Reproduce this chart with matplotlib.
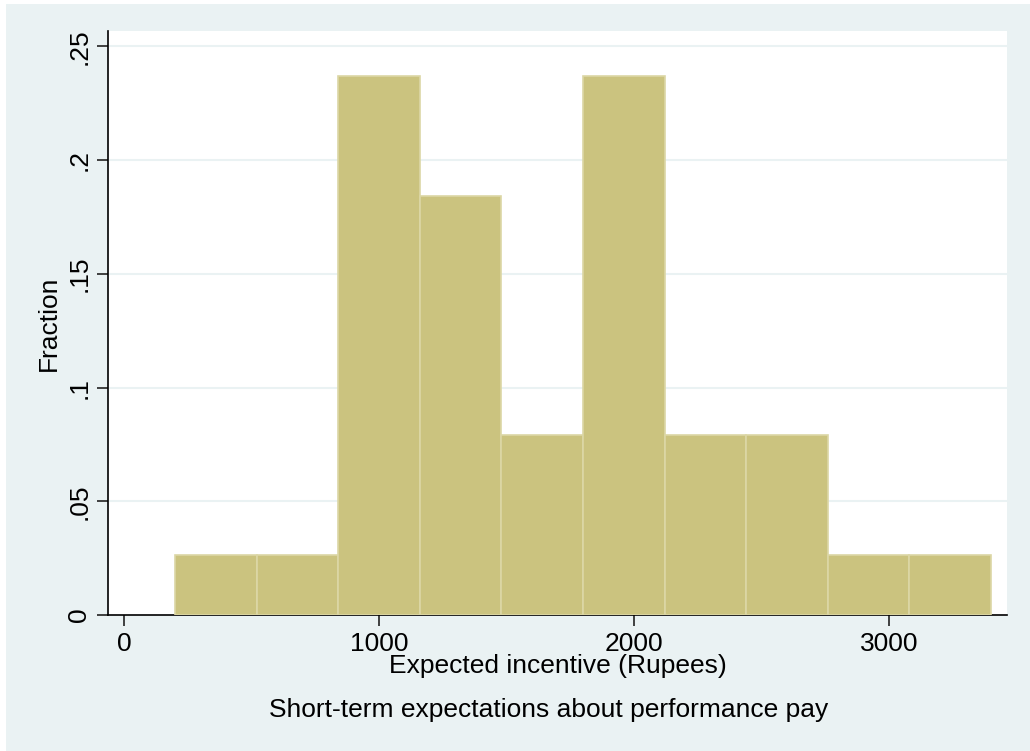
import numpy as np
import matplotlib.pyplot as plt
from matplotlib.patches import Rectangle

plt.rcParams['font.family'] = ['Liberation Sans', 'DejaVu Sans']

# Histogram bins (Rupees) and fraction per bin (n = 38)
bin_edges = [200, 520, 840, 1160, 1480, 1800, 2120, 2440, 2760, 3080, 3400]
fractions = [1/38, 1/38, 9/38, 7/38, 3/38, 9/38, 3/38, 3/38, 1/38, 1/38]
x_ticks = [0, 1000, 2000, 3000]
y_ticks = [0, 0.05, 0.1, 0.15, 0.2, 0.25]
y_tick_labels = ["0", ".05", ".1", ".15", ".2", ".25"]

bg = "#EAF2F3"
bar_color = "#CBC37F"
bar_edge = "#DCD7A6"
fs = 19

fig = plt.figure(figsize=(10.30, 7.51), dpi=100)
fig.patch.set_facecolor("white")
fig.patches.append(Rectangle((6 / 1030, 0), 1, 1 - 4 / 751,
                             transform=fig.transFigure, facecolor=bg,
                             edgecolor="none", zorder=-10))

ax = fig.add_axes([108 / 1030, 1 - 615 / 751, (1007 - 108) / 1030, (615 - 31) / 751])
ax.set_facecolor("white")

lefts = np.array(bin_edges[:-1])
widths = np.diff(bin_edges)
ax.bar(lefts, fractions, width=widths, align="edge", color=bar_color,
       edgecolor=bar_edge, linewidth=1.2, zorder=3)

ax.set_xlim(-64, 3464)
ax.set_ylim(0, 0.2568)

ax.set_yticks(y_ticks)
ax.set_yticklabels(y_tick_labels, rotation=90, va="center", fontsize=fs)
ax.set_xticks(x_ticks)
ax.set_xticklabels([str(t) for t in x_ticks], fontsize=fs)

for y in y_ticks[1:]:
    ax.axhline(y, color=bg, linewidth=1.5, zorder=1)

for side in ["top", "right"]:
    ax.spines[side].set_visible(False)
ax.spines["left"].set_linewidth(1.2)
ax.spines["bottom"].set_linewidth(1.2)
ax.tick_params(axis="both", direction="out", length=8, width=1.2, color="#222222")
ax.tick_params(axis="x", pad=4)
ax.tick_params(axis="y", pad=4)

ax.set_ylabel("Fraction", fontsize=fs, labelpad=5)
ax.set_xlabel("Expected incentive (Rupees)", fontsize=fs, labelpad=-1)

fig.text(549 / 1030, 1 - 710 / 751,
         "Short-term expectations about performance pay",
         ha="center", va="center", fontsize=fs)

fig.savefig("out.png", dpi=100, facecolor=fig.get_facecolor())
